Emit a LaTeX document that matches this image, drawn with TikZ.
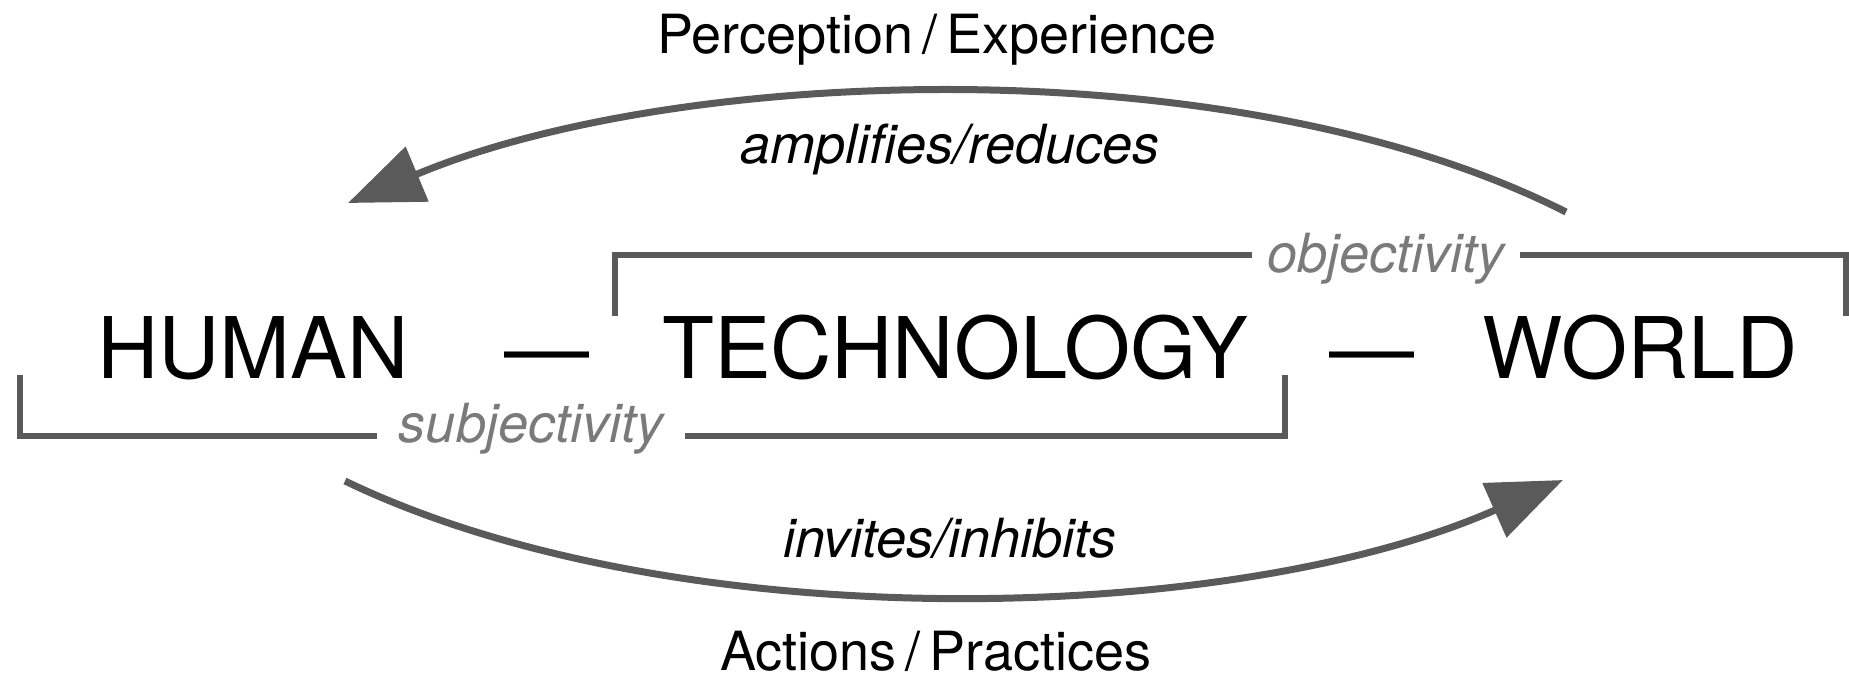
\documentclass[tikz,border=0pt]{standalone}
\usepackage{fontspec}
\setmainfont{TeX Gyre Heros}
\usetikzlibrary{arrows.meta}
\definecolor{linegray}{HTML}{5A5A5A}
\definecolor{labelgray}{HTML}{7A7A7A}
\tikzset{
  bigword/.style={anchor=base, inner sep=0pt, font=\fontsize{85}{90}\selectfont, text=black},
  smallword/.style={anchor=base, inner sep=0pt, font=\fontsize{54}{60}\selectfont, text=black},
  italword/.style={anchor=base, inner sep=0pt, font=\fontsize{54}{60}\selectfont\itshape, text=black},
  graylabel/.style={anchor=base, inner ysep=0pt, font=\fontsize{54}{60}\selectfont\itshape, text=labelgray},
  bracketline/.style={draw=linegray, line width=6pt, line join=miter},
  arcline/.style={draw=linegray, line width=7pt, -{Triangle[length=75pt,width=58pt]}, fill=none},
}
\begin{document}
\begin{tikzpicture}[x=1pt,y=-1pt]
\useasboundingbox (0,0) rectangle (1849,680);
% main row
\node[bigword] (human) at (253,378) {HUMAN};
\node[bigword] (dashA) at (547,378) {—};
\node[bigword] (tech) at (955,378) {TECHNOLOGY};
\node[bigword] (dashB) at (1372,378) {—};
\node[bigword] (world) at (1640,378) {WORLD};
% top and bottom labels
\node[smallword] (perc) at (937,53) {Perception\,/\,Experience};
\node[italword] (ampl) at (950,163) {amplifies/reduces};
\node[italword] (invi) at (950,557) {invites/inhibits};
\node[smallword] (acti) at (936,670) {Actions\,/\,Practices};
% objectivity bracket
\node[graylabel, inner xsep=15pt] (obj) at (1386,272) {objectivity};
\coordinate (oL) at (615,316);
\coordinate (oLc) at (615,255);
\coordinate (oRc) at (1846,255);
\coordinate (oR) at (1846,316);
\draw[bracketline] (oL) -- (oLc) -- (obj.west |- oLc);
\draw[bracketline] (obj.east |- oRc) -- (oRc) -- (oR);
% subjectivity bracket
\node[graylabel, inner xsep=22pt] (subj) at (531,442) {subjectivity};
\coordinate (sL) at (20,375);
\coordinate (sLc) at (20,436);
\coordinate (sRc) at (1285,436);
\coordinate (sR) at (1285,375);
\draw[bracketline] (sL) -- (sLc) -- (subj.west |- sLc);
\draw[bracketline] (subj.east |- sRc) -- (sRc) -- (sR);
% arcs
\coordinate (topStart) at (1566,212);
\coordinate (topEnd) at (348,203);
\coordinate (botStart) at (345,481);
\coordinate (botEnd) at (1563,480);
\draw[arcline] (topStart) .. controls (1236,45) and (678,65) .. (topEnd);
\draw[arcline] (botStart) .. controls (675,640) and (1233,626) .. (botEnd);
\end{tikzpicture}
\end{document}
